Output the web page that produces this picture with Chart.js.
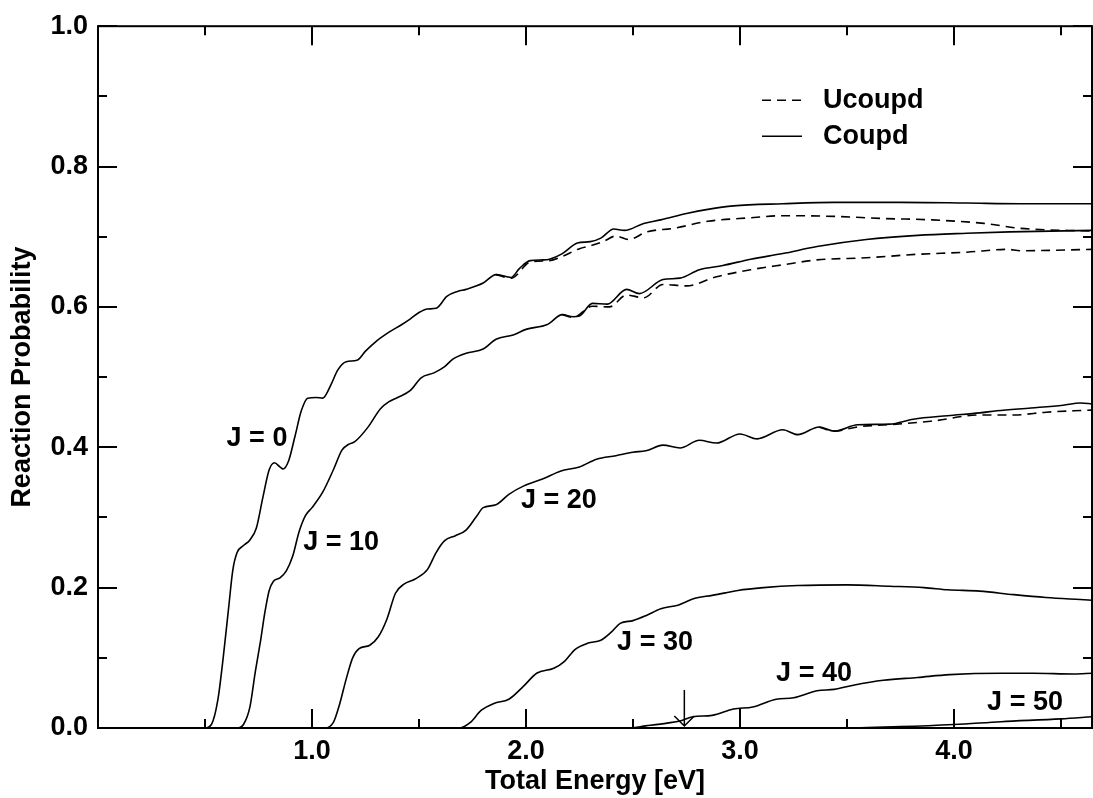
<!DOCTYPE html>
<html>
<head>
<meta charset="utf-8">
<script src="https://cdn.jsdelivr.net/npm/chart.js@4/dist/chart.umd.min.js"></script>
<style>
  html, body { margin: 0; padding: 0; background: #fff; }
  #wrap { width: 1093px; height: 798px; position: relative; }
</style>
</head>
<body>
<div id="wrap"><canvas id="chart"></canvas></div>
<script>
// Données : énergie totale [eV] et probabilité de réaction
const energyJ0 = [0, 0.50, 0.53, 0.56, 0.585, 0.61, 0.63, 0.65, 0.68, 0.71, 0.74, 0.77, 0.80, 0.825, 0.85, 0.865, 0.89, 0.92, 0.95, 0.98, 1.02, 1.05, 1.09, 1.12, 1.16, 1.21, 1.25, 1.30, 1.36, 1.42, 1.46, 1.50, 1.54, 1.58, 1.63, 1.68, 1.72, 1.80, 1.86, 1.91, 1.93, 1.97, 2.02, 2.08, 2.11, 2.17, 2.24, 2.30, 2.35, 2.41, 2.46, 2.55, 2.63, 2.75, 2.85, 2.97, 3.20, 3.44, 3.75, 4.06, 4.31, 4.645];
const coupledJ0 = [0, 0, 0.005, 0.04, 0.10, 0.17, 0.225, 0.250, 0.260, 0.268, 0.285, 0.328, 0.368, 0.378, 0.372, 0.369, 0.38, 0.415, 0.452, 0.470, 0.471, 0.470, 0.49, 0.51, 0.522, 0.524, 0.537, 0.551, 0.564, 0.575, 0.583, 0.592, 0.597, 0.598, 0.615, 0.622, 0.625, 0.634, 0.646, 0.643, 0.642, 0.655, 0.666, 0.667, 0.668, 0.676, 0.691, 0.693, 0.698, 0.711, 0.709, 0.719, 0.724, 0.733, 0.739, 0.744, 0.747, 0.749, 0.749, 0.748, 0.747, 0.747];
const energyJ0u = [1.86, 1.93, 2.02, 2.11, 2.17, 2.25, 2.30, 2.36, 2.42, 2.48, 2.565, 2.69, 2.85, 3.05, 3.20, 3.44, 3.67, 3.90, 4.14, 4.31, 4.645];
const uncoupledJ0 = [0.646, 0.641, 0.664, 0.666, 0.672, 0.683, 0.687, 0.693, 0.701, 0.696, 0.707, 0.712, 0.722, 0.727, 0.730, 0.729, 0.726, 0.724, 0.719, 0.712, 0.708];

const energyJ10 = [0, 0.65, 0.68, 0.71, 0.735, 0.76, 0.78, 0.80, 0.82, 0.85, 0.88, 0.91, 0.94, 0.97, 1.00, 1.05, 1.10, 1.14, 1.17, 1.20, 1.26, 1.32, 1.36, 1.40, 1.46, 1.51, 1.57, 1.62, 1.66, 1.72, 1.80, 1.86, 1.94, 2.00, 2.10, 2.17, 2.22, 2.25, 2.31, 2.38, 2.47, 2.53, 2.64, 2.72, 2.81, 2.92, 3.05, 3.20, 3.36, 3.59, 3.83, 4.06, 4.26, 4.645];
const coupledJ10 = [0, 0, 0.005, 0.03, 0.08, 0.125, 0.165, 0.196, 0.209, 0.214, 0.224, 0.245, 0.280, 0.303, 0.314, 0.336, 0.368, 0.396, 0.404, 0.408, 0.428, 0.455, 0.465, 0.471, 0.481, 0.499, 0.506, 0.515, 0.526, 0.534, 0.540, 0.554, 0.560, 0.568, 0.575, 0.589, 0.586, 0.587, 0.605, 0.604, 0.625, 0.619, 0.639, 0.641, 0.653, 0.659, 0.668, 0.676, 0.686, 0.696, 0.702, 0.705, 0.707, 0.709];
const energyJ10u = [2.17, 2.22, 2.31, 2.39, 2.47, 2.55, 2.64, 2.75, 2.89, 3.05, 3.20, 3.36, 3.59, 3.83, 4.06, 4.25, 4.31, 4.645];
const uncoupledJ10 = [0.589, 0.585, 0.601, 0.600, 0.617, 0.613, 0.632, 0.630, 0.643, 0.653, 0.660, 0.667, 0.670, 0.675, 0.678, 0.682, 0.680, 0.682];

const energyJ20 = [0, 1.06, 1.10, 1.13, 1.16, 1.19, 1.22, 1.27, 1.31, 1.35, 1.39, 1.43, 1.48, 1.54, 1.58, 1.62, 1.67, 1.72, 1.77, 1.80, 1.86, 1.92, 1.99, 2.08, 2.16, 2.25, 2.33, 2.42, 2.50, 2.56, 2.64, 2.72, 2.81, 2.89, 3.00, 3.08, 3.20, 3.27, 3.37, 3.44, 3.55, 3.70, 3.81, 3.97, 4.12, 4.20, 4.36, 4.51, 4.59, 4.645];
const coupledJ20 = [0, 0, 0.008, 0.035, 0.07, 0.100, 0.113, 0.118, 0.130, 0.155, 0.192, 0.205, 0.212, 0.226, 0.250, 0.267, 0.274, 0.282, 0.302, 0.314, 0.318, 0.333, 0.345, 0.355, 0.366, 0.372, 0.383, 0.388, 0.393, 0.395, 0.403, 0.399, 0.410, 0.406, 0.419, 0.412, 0.425, 0.418, 0.429, 0.423, 0.432, 0.433, 0.440, 0.445, 0.449, 0.452, 0.456, 0.460, 0.463, 0.462];
const energyJ20u = [3.37, 3.44, 3.55, 3.73, 3.89, 4.12, 4.28, 4.43, 4.56, 4.645];
const uncoupledJ20 = [0.429, 0.423, 0.429, 0.433, 0.437, 0.446, 0.446, 0.450, 0.452, 0.453];

const energyJ30 = [0, 1.69, 1.74, 1.79, 1.85, 1.92, 1.99, 2.05, 2.13, 2.18, 2.23, 2.29, 2.35, 2.40, 2.44, 2.50, 2.56, 2.63, 2.71, 2.79, 2.87, 2.94, 2.99, 3.11, 3.27, 3.50, 3.70, 3.86, 3.97, 4.12, 4.28, 4.43, 4.59, 4.645];
const coupledJ30 = [0, 0, 0.008, 0.025, 0.035, 0.041, 0.060, 0.078, 0.085, 0.095, 0.112, 0.121, 0.125, 0.137, 0.149, 0.153, 0.160, 0.170, 0.175, 0.185, 0.189, 0.193, 0.196, 0.200, 0.203, 0.204, 0.202, 0.200, 0.197, 0.195, 0.190, 0.186, 0.183, 0.182];

const energyJ40 = [0, 2.48, 2.56, 2.66, 2.72, 2.78, 2.87, 2.97, 3.06, 3.17, 3.25, 3.36, 3.44, 3.53, 3.67, 3.83, 3.98, 4.22, 4.37, 4.56, 4.645];
const coupledJ40 = [0, 0, 0.003, 0.007, 0.010, 0.016, 0.018, 0.027, 0.030, 0.041, 0.043, 0.053, 0.055, 0.061, 0.068, 0.072, 0.076, 0.078, 0.078, 0.077, 0.078];

const energyJ50 = [0, 3.45, 3.75, 4.00, 4.22, 4.50, 4.645];
const coupledJ50 = [0, 0, 0.002, 0.005, 0.009, 0.013, 0.016];

const legendLabels = ['Ucoupd', 'Coupd'];
const curveLabels = ['J = 0', 'J = 10', 'J = 20', 'J = 30', 'J = 40', 'J = 50'];
const arrowEnergy = 2.74;
const arrowTop = 0.054;

const FONT = '"Liberation Sans", Arial, Helvetica, sans-serif';
const BOLD = { family: FONT, size: 27, weight: 'bold' };
const DASH = [9, 6];

function toPoints(xs, ys) {
    return xs.map((x, i) => ({ x: x, y: ys[i] }));
}

function curve(xs, ys, dashed) {
    return {
        data: toPoints(xs, ys),
        borderColor: '#000',
        borderWidth: 1.6,
        borderDash: dashed ? DASH : [],
        pointRadius: 0,
        fill: false,
        cubicInterpolationMode: 'monotone'
    };
}

// Position des étiquettes (centre, en unités des axes)
const labelAnchors = [
    [0.743, 0.413], [1.136, 0.264], [2.154, 0.324],
    [2.603, 0.122], [3.346, 0.078], [4.332, 0.036]
];

const decorations = {
    id: 'decorations',
    afterDraw(chart) {
        const { ctx, chartArea: a, scales: { x, y } } = chart;
        ctx.save();
        ctx.strokeStyle = '#000';
        ctx.lineWidth = 2;
        ctx.lineCap = 'butt';

        // cadre
        ctx.strokeRect(a.left, a.top, a.right - a.left, a.bottom - a.top);

        // graduations vers l'intérieur, sur les quatre côtés
        ctx.beginPath();
        x.ticks.forEach(t => {
            const px = Math.round(x.getPixelForValue(t.value));
            const major = Math.abs(t.value - Math.round(t.value)) < 1e-6;
            const len = major ? 19 : 9;
            ctx.moveTo(px, a.bottom); ctx.lineTo(px, a.bottom - len);
            ctx.moveTo(px, a.top); ctx.lineTo(px, a.top + len);
        });
        y.ticks.forEach(t => {
            const py = Math.round(y.getPixelForValue(t.value));
            const major = Math.abs(t.value * 5 - Math.round(t.value * 5)) < 1e-6;
            const len = major ? 19 : 9;
            ctx.moveTo(a.left, py); ctx.lineTo(a.left + len, py);
            ctx.moveTo(a.right, py); ctx.lineTo(a.right - len, py);
        });
        ctx.stroke();

        // flèche
        const ax = x.getPixelForValue(arrowEnergy);
        const ay0 = y.getPixelForValue(arrowTop);
        const ay1 = y.getPixelForValue(0) - 2;
        ctx.lineWidth = 1.5;
        ctx.beginPath();
        ctx.moveTo(ax, ay0); ctx.lineTo(ax, ay1);
        ctx.moveTo(ax - 10, ay1 - 10); ctx.lineTo(ax, ay1); ctx.lineTo(ax + 10, ay1 - 10);
        ctx.stroke();

        // étiquettes J
        ctx.fillStyle = '#000';
        ctx.font = 'bold 27px ' + FONT;
        ctx.textAlign = 'center';
        ctx.textBaseline = 'middle';
        curveLabels.forEach((txt, i) => {
            ctx.fillText(txt, x.getPixelForValue(labelAnchors[i][0]), y.getPixelForValue(labelAnchors[i][1]));
        });

        // légende
        const lx = a.left + 664;
        const ly = [a.top + 74, a.top + 110];
        ctx.lineWidth = 1.6;
        legendLabels.forEach((txt, i) => {
            ctx.setLineDash(i === 0 ? DASH : []);
            ctx.beginPath();
            ctx.moveTo(lx, ly[i]); ctx.lineTo(lx + 40, ly[i]);
            ctx.stroke();
            ctx.setLineDash([]);
            ctx.textAlign = 'left';
            ctx.fillText(txt, lx + 61, ly[i]);
        });
        ctx.restore();
    }
};

const ctx = document.getElementById('chart').getContext('2d');
new Chart(ctx, {
    type: 'line',
    data: {
        datasets: [
            curve(energyJ0, coupledJ0, false),
            curve(energyJ0u, uncoupledJ0, true),
            curve(energyJ10, coupledJ10, false),
            curve(energyJ10u, uncoupledJ10, true),
            curve(energyJ20, coupledJ20, false),
            curve(energyJ20u, uncoupledJ20, true),
            curve(energyJ30, coupledJ30, false),
            curve(energyJ40, coupledJ40, false),
            curve(energyJ50, coupledJ50, false)
        ]
    },
    options: {
        responsive: true,
        maintainAspectRatio: false,
        animation: false,
        devicePixelRatio: 1,
        layout: { padding: { top: 24, right: 1, left: 0, bottom: 0 } },
        plugins: { legend: { display: false }, tooltip: { enabled: false } },
        scales: {
            x: {
                type: 'linear',
                min: 0,
                max: 4.645,
                border: { display: false },
                grid: { display: false, drawTicks: false },
                ticks: {
                    stepSize: 0.5,
                    includeBounds: false,
                    autoSkip: false,
                    maxRotation: 0,
                    padding: 7,
                    color: '#000',
                    font: BOLD,
                    callback: v => (v >= 1 && Math.abs(v - Math.round(v)) < 1e-6) ? v.toFixed(1) : ''
                },
                title: {
                    display: true,
                    text: 'Total Energy [eV]',
                    color: '#000',
                    font: BOLD,
                    padding: { top: 0, bottom: 0 }
                },
                afterFit: s => { s.height = 70; }
            },
            y: {
                type: 'linear',
                min: 0,
                max: 1,
                border: { display: false },
                grid: { display: false, drawTicks: false },
                ticks: {
                    stepSize: 0.1,
                    autoSkip: false,
                    padding: 10,
                    color: '#000',
                    font: BOLD,
                    callback: v => Math.abs(v * 5 - Math.round(v * 5)) < 1e-6 ? v.toFixed(1) : ''
                },
                title: {
                    display: true,
                    text: 'Reaction Probability',
                    color: '#000',
                    font: BOLD,
                    padding: { top: 6, bottom: 0 }
                },
                afterFit: s => { s.width = 98; }
            }
        }
    },
    plugins: [decorations]
});
</script>
</body>
</html>
